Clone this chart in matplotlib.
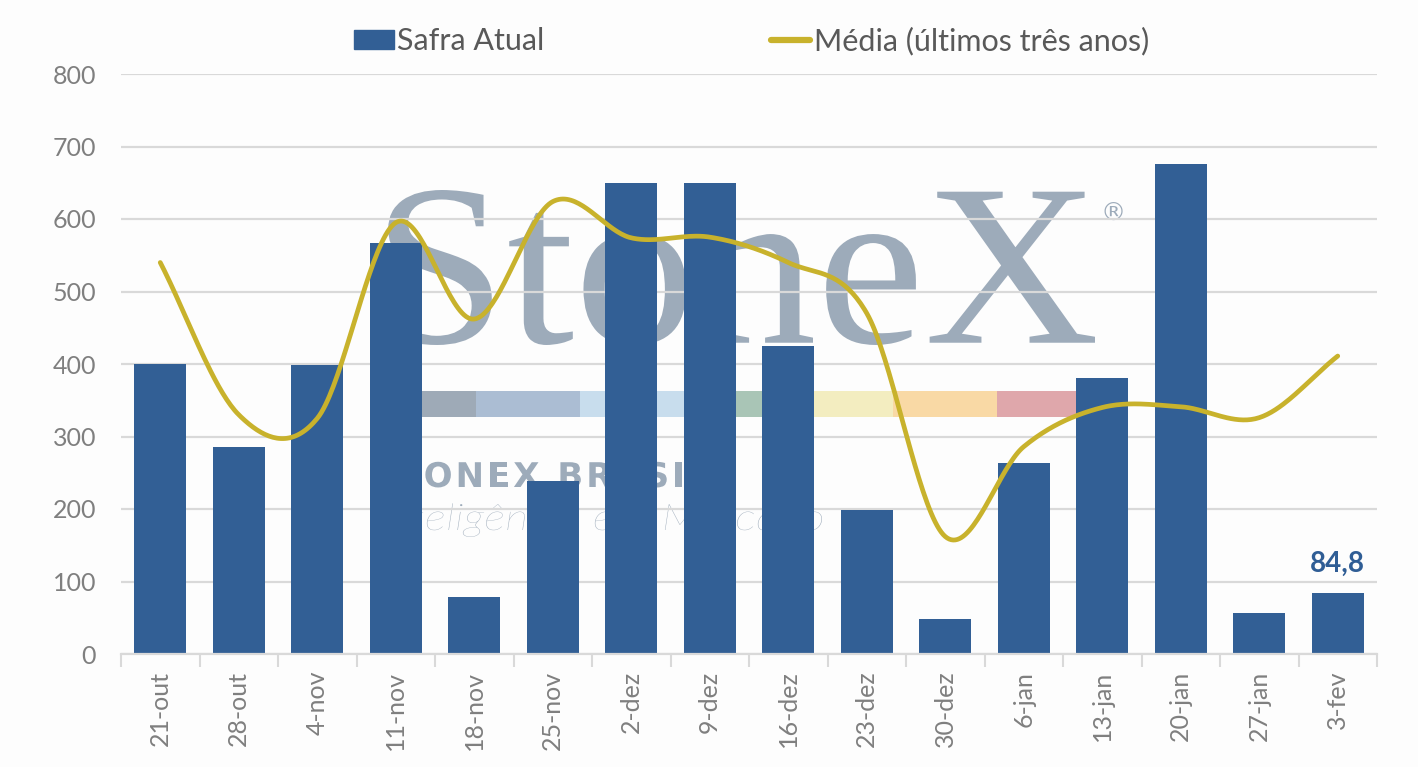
import numpy as np
import matplotlib
matplotlib.use("Agg")
import matplotlib.pyplot as plt
from matplotlib.patches import Rectangle, PathPatch
from matplotlib.lines import Line2D
from matplotlib.textpath import TextPath
from matplotlib.font_manager import FontProperties, findfont, get_font
from matplotlib.transforms import Affine2D

categories = ["21-out", "28-out", "4-nov", "11-nov", "18-nov", "25-nov", "2-dez", "9-dez",
              "16-dez", "23-dez", "30-dez", "6-jan", "13-jan", "20-jan", "27-jan", "3-fev"]
safra_atual = [400, 285, 399, 567, 79, 239, 650, 650, 425, 199, 48, 263, 381, 676, 57, 84.8]
media_3anos = [540, 330, 325, 595, 462, 624, 574, 575, 540, 470, 162, 286, 340, 341, 326, 411]
yticks = [0, 100, 200, 300, 400, 500, 600, 700, 800]

BAR = "#325F95"
LINE = "#C8B22C"
GRID = "#D9D9D9"
WM = "#9DABBA"
FONT = "Lato"

W, H = 1418, 767
fig = plt.figure(figsize=(W / 100, H / 100), dpi=100)
fig.patch.set_facecolor("#FDFDFD")
ax = fig.add_axes([121 / W, 1 - 654 / H, (1377 - 121) / W, (654 - 74) / H])
ax.patch.set_alpha(0)

x = np.arange(len(categories))
ax.bar(x, safra_atual, width=0.66, color=BAR, zorder=2)

# Catmull-Rom (Excel-like) smoothing
p = np.array(media_3anos, dtype=float)
n = len(p)
m = np.zeros(n)
m[1:-1] = (p[2:] - p[:-2]) / 2
m[0] = (p[1] - p[0])
m[-1] = (p[-1] - p[-2])
xs, ys = [], []
for i in range(n - 1):
    t = np.linspace(0, 1, 40)
    h00 = 2 * t**3 - 3 * t**2 + 1
    h10 = t**3 - 2 * t**2 + t
    h01 = -2 * t**3 + 3 * t**2
    h11 = t**3 - t**2
    xs.append(x[i] + t)
    ys.append(h00 * p[i] + h10 * m[i] + h01 * p[i + 1] + h11 * m[i + 1])
ax.plot(np.concatenate(xs), np.concatenate(ys), color=LINE, lw=3.4,
        solid_capstyle="round", zorder=3)

# data label
ax.annotate("84,8", (x[-1], safra_atual[-1]), xytext=(0, 11), textcoords="offset points",
            ha="center", va="bottom", color="#2F5D95", fontsize=20, fontweight="bold",
            family=FONT, zorder=4)

ax.set_yticks(yticks)
ax.set_yticklabels([str(v) for v in yticks])
ax.set_xticks(x)
ax.set_xticklabels(categories, rotation=90)
ax.set_xticks(np.arange(-0.5, len(categories)), minor=True)
ax.tick_params(axis="x", which="major", length=0, pad=12, labelsize=18, labelcolor="#7F7F7F")
ax.tick_params(axis="x", which="minor", length=9, width=1.5, color=GRID, direction="out")
ax.tick_params(axis="y", length=0, pad=18, labelsize=18, labelcolor="#7F7F7F")
for lab in ax.get_xticklabels() + ax.get_yticklabels():
    lab.set_family(FONT)
ax.set_axisbelow(True)
ax.yaxis.grid(True, color=GRID, lw=1.6)
for s in ["left", "right", "top"]:
    ax.spines[s].set_visible(False)
ax.spines["bottom"].set_color(GRID)
ax.spines["bottom"].set_linewidth(1.6)

# watermark (drawn as text outlines fitted to pixel boxes)
tf = fig.transFigure


def fit_text(s, fp, left, right, bottom, top, use_em=None, baseline=None):
    tp = TextPath((0, 0), s, size=100, prop=fp)
    v = tp.vertices
    xmin, xmax = v[:, 0].min(), v[:, 0].max()
    ymin, ymax = v[:, 1].min(), v[:, 1].max()
    sx = (right - left) / (xmax - xmin)
    if use_em is None:
        sy = (bottom - top) / (ymax - ymin)
        tr = (Affine2D().translate(-xmin, -ymin).scale(sx / W, sy / H)
              .translate(left / W, 1 - bottom / H))
    else:
        sy = use_em / 100
        tr = (Affine2D().translate(-xmin, 0).scale(sx / W, sy / H)
              .translate(left / W, 1 - baseline / H))
    ax.add_patch(PathPatch(tp, transform=tr + tf, facecolor=WM, lw=0, zorder=0.1))


def tracked_text(s, fp, left, baseline, em_px, track_px):
    font = get_font(findfont(fp))
    font.set_size(100, 72)
    xcur = left
    k = em_px / 100
    for ch in s:
        adv = font.load_char(ord(ch)).linearHoriAdvance / 65536
        if ch != " ":
            tp = TextPath((0, 0), ch, size=100, prop=fp)
            tr = Affine2D().scale(k / W, k / H).translate(xcur / W, 1 - baseline / H)
            ax.add_patch(PathPatch(tp, transform=tr + tf, facecolor=WM, lw=0, zorder=0.1))
        xcur += adv * k + track_px


fit_text("StoneX", FontProperties(family="Liberation Serif"), 372, 1095, 345, 190)
ax.text(1113 / W, 1 - 214 / H, "®", transform=tf, family="DejaVu Sans",
        fontsize=18, color=WM, ha="center", va="center", zorder=0.1)
edges = [422, 476, 580, 710, 788, 893, 997, 1077]
scols = ["#9EAAB7", "#ABBDD3", "#C8DDED", "#A9C5B6", "#F3EDC0", "#F9D9A5", "#DFA7AB"]
for i, c in enumerate(scols):
    ax.add_patch(Rectangle((edges[i] / W, 1 - 417 / H), (edges[i + 1] - edges[i]) / W,
                           26 / H, transform=tf, color=c, lw=0, zorder=0.1))
tracked_text("STONEX BRASIL", FontProperties(family="DejaVu Sans", weight="bold"),
             370, 487, 34, 3)
fit_text("Inteligência em Mercado",
         FontProperties(family=FONT, style="italic", weight="light"),
         376, 822, None, None, use_em=37, baseline=530)

ax.set_xlim(-0.5, len(categories) - 0.5)
ax.set_ylim(0, 800)

# legend
handles = [Rectangle((0, 0), 1, 1, color=BAR),
           Line2D([0], [0], color=LINE, lw=4.5, solid_capstyle="round")]
leg = fig.legend(handles, ["Safra Atual", "Média (últimos três anos)"], loc="center",
                 bbox_to_anchor=(0.53, 1 - 41 / H), ncol=2, frameon=False,
                 prop={"family": FONT, "size": 22}, handlelength=1.3, handleheight=0.56,
                 handletextpad=0.12, columnspacing=7.4, labelcolor="#595959")

fig.savefig("out.png", dpi=100, facecolor=fig.get_facecolor())
